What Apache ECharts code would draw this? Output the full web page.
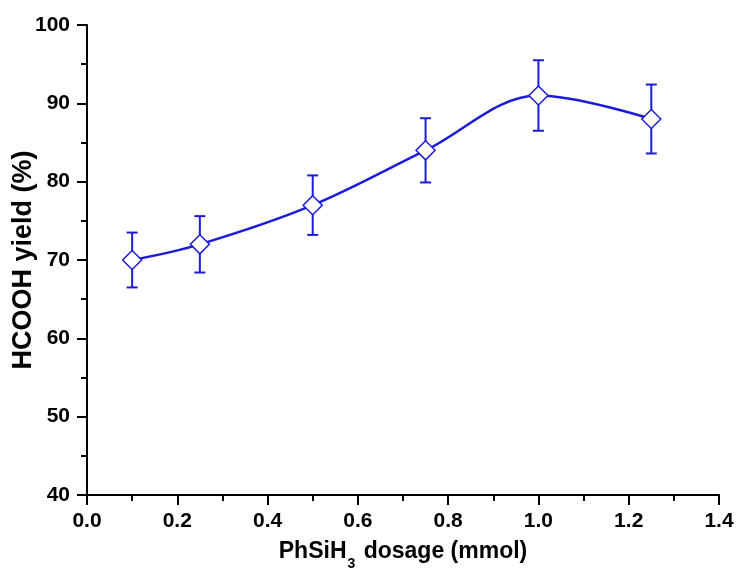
<!DOCTYPE html>
<html>
<head>
<meta charset="utf-8">
<script src="https://cdn.jsdelivr.net/npm/echarts@6/dist/echarts.min.js"></script>
<style>html,body{margin:0;padding:0;background:#fff}#c{width:739px;height:569px}</style>
</head>
<body>
<div id="c"></div>
<script>
var dosages = [0.1, 0.25, 0.5, 0.75, 1.0, 1.25];
var yields = [70, 72, 77, 84, 91, 88];
var errors = [3.5, 3.6, 3.8, 4.1, 4.5, 4.4];
var xTicks = { min: 0, max: 1.4, interval: 0.2 };
var yTicks = { min: 40, max: 100, interval: 10 };

var blue = '#1c1cd6';
var font = 'Liberation Sans, Arial, sans-serif';

var lineData = dosages.map(function (x, i) { return [x, yields[i]]; });
var errData = dosages.map(function (x, i) { return [x, yields[i] - errors[i], yields[i] + errors[i]]; });

var chart = echarts.init(document.getElementById('c'));
chart.setOption({
  animation: false,
  backgroundColor: '#fff',
  grid: { left: 87, right: 20, top: 25, bottom: 74, containLabel: false, outerBoundsMode: 'none' },
  xAxis: {
    type: 'value', min: xTicks.min, max: xTicks.max, interval: xTicks.interval,
    name: '{n|PhSiH}{s|3}{n| dosage (mmol)}',
    nameLocation: 'middle', nameGap: 45, nameMoveOverlap: false,
    nameTextStyle: {
      rich: {
        n: { fontFamily: font, fontWeight: 'bold', fontSize: 23, color: '#000' },
        s: { fontFamily: font, fontWeight: 'bold', fontSize: 14, color: '#000', verticalAlign: 'bottom', padding: [0, 2, -8, 1] }
      }
    },
    axisLine: { lineStyle: { color: '#000', width: 2 } },
    axisTick: { inside: false, length: 10, lineStyle: { color: '#000', width: 2 } },
    minorTick: { show: true, splitNumber: 2, length: 6, lineStyle: { color: '#000', width: 2 } },
    axisLabel: { color: '#000', fontFamily: font, fontWeight: 'bold', fontSize: 21, margin: 16,
      formatter: function (v) { return v.toFixed(1); } },
    splitLine: { show: false }
  },
  yAxis: {
    type: 'value', min: yTicks.min, max: yTicks.max, interval: yTicks.interval,
    name: 'HCOOH yield (%)', nameLocation: 'middle', nameGap: 50, nameMoveOverlap: false,
    nameTextStyle: { fontFamily: font, fontWeight: 'bold', fontSize: 27, color: '#000' },
    axisLine: { show: true, lineStyle: { color: '#000', width: 2 } },
    axisTick: { show: true, inside: false, length: 10, lineStyle: { color: '#000', width: 2 } },
    minorTick: { show: true, splitNumber: 2, length: 6, lineStyle: { color: '#000', width: 2 } },
    axisLabel: { color: '#000', fontFamily: font, fontWeight: 'bold', fontSize: 21, margin: 17 },
    splitLine: { show: false }
  },
  series: [
    {
      type: 'custom',
      data: errData,
      z: 2,
      renderItem: function (params, api) {
        var x = api.value(0);
        var lo = api.coord([x, api.value(1)]);
        var hi = api.coord([x, api.value(2)]);
        var w = 5.5;
        var st = { stroke: blue, lineWidth: 2 };
        return {
          type: 'group',
          children: [
            { type: 'line', shape: { x1: lo[0], y1: lo[1], x2: hi[0], y2: hi[1] }, style: st },
            { type: 'line', shape: { x1: lo[0] - w, y1: lo[1], x2: lo[0] + w, y2: lo[1] }, style: st },
            { type: 'line', shape: { x1: hi[0] - w, y1: hi[1], x2: hi[0] + w, y2: hi[1] }, style: st }
          ]
        };
      }
    },
    {
      type: 'line',
      data: lineData,
      smooth: 0.35,
      z: 3,
      symbol: 'diamond',
      symbolSize: [19, 19],
      lineStyle: { color: blue, width: 2.5 },
      itemStyle: { color: '#fff', borderColor: blue, borderWidth: 1.5 }
    }
  ]
});
</script>
</body>
</html>
